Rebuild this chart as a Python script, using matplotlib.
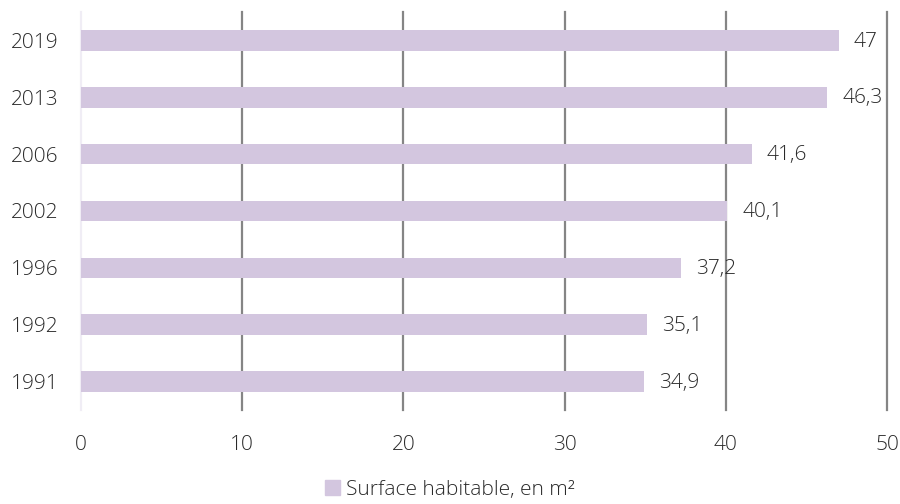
import matplotlib.pyplot as plt
from matplotlib.patches import Patch

# données
annees = ['1991', '1992', '1996', '2002', '2006', '2013', '2019']
surface = [34.9, 35.1, 37.2, 40.1, 41.6, 46.3, 47]
etiquettes = ['34,9', '35,1', '37,2', '40,1', '41,6', '46,3', '47']
graduations = [0, 10, 20, 30, 40, 50]

plt.rcParams['font.family'] = ['Open Sans', 'DejaVu Sans']
plt.rcParams['font.weight'] = 'light'
couleur = '#d3c6df'
texte = '#2a2a2a'

fig = plt.figure(figsize=(9, 5.04), dpi=100)
ax = fig.add_axes([81 / 900, 1 - 410 / 504, 806 / 900, 398 / 504])

ax.barh(range(len(annees)), surface, height=0.36, color=couleur, zorder=3)
for i, (v, t) in enumerate(zip(surface, etiquettes)):
    ax.text(v + 0.95, i - 0.02, t, va='center', ha='left', fontsize=15, color=texte, zorder=4)

ax.set_xlim(0, 50)
ax.set_ylim(-0.5, len(annees) - 0.5)
ax.set_xticks(graduations)
ax.set_xticklabels([str(g) for g in graduations])
ax.set_yticks(range(len(annees)))
ax.set_yticklabels(annees)
ax.tick_params(axis='both', length=0, labelsize=15, colors=texte)
ax.tick_params(axis='x', pad=18)
ax.tick_params(axis='y', pad=16)

for g in graduations[1:]:
    ax.axvline(g, color='#858585', linewidth=1.6, zorder=1, clip_on=False)
ax.axvline(0, color='#f0edf5', linewidth=1.6, zorder=1, clip_on=False)
for s in ax.spines.values():
    s.set_visible(False)

fig.legend(handles=[Patch(color=couleur)], labels=['Surface habitable, en m²'],
           loc='center', bbox_to_anchor=(0.5, 1 - 490 / 504), frameon=False,
           fontsize=15, handlelength=0.7, handleheight=0.7, handletextpad=0.3,
           labelcolor=texte)

fig.savefig('out.png', dpi=100)
